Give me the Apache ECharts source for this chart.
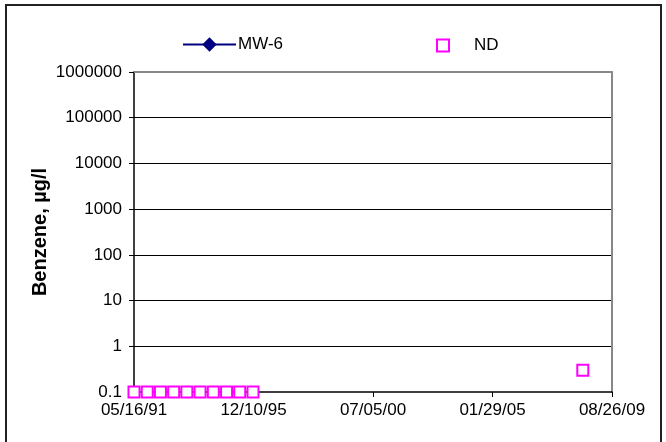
<!DOCTYPE html>
<html>
<head>
<meta charset="utf-8">
<script src="https://cdn.jsdelivr.net/npm/echarts@6/dist/echarts.min.js"></script>
<style>
html,body{margin:0;padding:0;background:#fff;}
#chart{width:666px;height:442px;}
</style>
</head>
<body>
<div id="chart"></div>
<script>
const xTickLabels = ['05/16/91', '12/10/95', '07/05/00', '01/29/05', '08/26/09'];
const yTickLabels = ['0.1', '1', '10', '100', '1000', '10000', '100000', '1000000'];
const ndDates = ['1991-05-16', '1991-11-17', '1992-05-19', '1992-11-20', '1993-05-23',
                 '1993-11-24', '1994-05-28', '1994-11-29', '1995-06-01', '1995-12-03', '2008-07-14'];
const ndValues = [0.1, 0.1, 0.1, 0.1, 0.1, 0.1, 0.1, 0.1, 0.1, 0.1, 0.3];
const mw6Dates = [];
const mw6Values = [];

const baseDate = xTickLabels[0];
function toDays(iso) {
  const p = iso.split('-').map(Number);
  const b = baseDate.split('/').map(Number);
  const bt = Date.UTC(1900 + b[2], b[0] - 1, b[1]);
  return (Date.UTC(p[0], p[1] - 1, p[2]) - bt) / 86400000;
}
function usDateToDays(s) {
  const b = s.split('/').map(Number);
  const yr = b[2] < 50 ? 2000 + b[2] : 1900 + b[2];
  return toDays(yr + '-' + b[0] + '-' + b[1]);
}
const xMax = usDateToDays(xTickLabels[xTickLabels.length - 1]);
const xInterval = xMax / (xTickLabels.length - 1);

const FONT = '"Liberation Sans", Arial, sans-serif';
const chart = echarts.init(document.getElementById('chart'), null, {renderer: 'canvas'});
chart.setOption({
  animation: false,
  backgroundColor: '#fff',
  graphic: [{
    type: 'rect', shape: {x: 6, y: 5, width: 655, height: 440},
    style: {fill: 'none', stroke: '#222', lineWidth: 2}, silent: true
  }],
  legend: [{
    left: 177, top: 31, itemWidth: 53, itemHeight: 18, padding: 5,
    textStyle: {fontFamily: FONT, fontSize: 17, color: '#000', padding: [0, 0, 0, -3]},
    data: ['MW-6']
  }, {
    left: 431, top: 32, itemWidth: 12, itemHeight: 12, padding: 5,
    textStyle: {fontFamily: FONT, fontSize: 17, color: '#000', padding: [0, 0, 0, 20]},
    data: [{name: 'ND', icon: 'rect', itemStyle: {color: '#fff', borderColor: '#FF00FF', borderWidth: 2}}]
  }],
  grid: {left: 134, right: 54, top: 72, bottom: 50, containLabel: false},
  xAxis: [{
    type: 'value', min: 0, max: xMax, interval: xInterval,
    axisLine: {show: true, onZero: false, lineStyle: {color: '#000', width: 1.5}},
    axisTick: {show: true, length: 5, lineStyle: {color: '#000'}},
    splitLine: {show: false},
    axisLabel: {
      fontFamily: FONT, fontSize: 17, color: '#000', margin: 10,
      formatter: function (v) { return xTickLabels[Math.round(v / xInterval)]; }
    }
  }, {
    type: 'value', position: 'top', min: 0, max: xMax,
    axisLine: {show: true, onZero: false, lineStyle: {color: '#888', width: 2}},
    axisTick: {show: false}, axisLabel: {show: false}, splitLine: {show: false}
  }],
  yAxis: [{
    type: 'log', logBase: 10, min: 0.1, max: 1000000,
    name: 'Benzene, µg/l', nameLocation: 'middle', nameGap: 84, nameRotate: 90,
    nameMoveOverlap: false,
    nameTextStyle: {fontFamily: FONT, fontSize: 20, fontWeight: 'bold', color: '#000'},
    axisLine: {show: true, onZero: false, lineStyle: {color: '#000', width: 1.5}},
    axisTick: {show: true, length: 5, lineStyle: {color: '#000'}},
    splitLine: {show: true, showMinLine: false, showMaxLine: false, lineStyle: {color: '#000', width: 1}},
    axisLabel: {
      fontFamily: FONT, fontSize: 17, color: '#000', margin: 12,
      formatter: function (v) { return yTickLabels[Math.round(Math.log10(v)) + 1]; }
    }
  }, {
    type: 'log', logBase: 10, min: 0.1, max: 1000000, position: 'right',
    axisLine: {show: true, onZero: false, lineStyle: {color: '#888', width: 2}},
    axisTick: {show: false}, axisLabel: {show: false}, splitLine: {show: false}
  }],
  series: [{
    name: 'MW-6', type: 'line',
    data: mw6Dates.map((d, i) => [toDays(d), mw6Values[i]]),
    symbol: 'diamond', symbolSize: 13,
    lineStyle: {color: '#000080', width: 2},
    itemStyle: {color: '#000080'}
  }, {
    name: 'ND', type: 'scatter', clip: false,
    data: ndDates.map((d, i) => [toDays(d), ndValues[i]]),
    symbol: 'rect', symbolSize: 11,
    itemStyle: {color: '#fff', borderColor: '#FF00FF', borderWidth: 2, opacity: 1}
  }]
});
</script>
</body>
</html>
